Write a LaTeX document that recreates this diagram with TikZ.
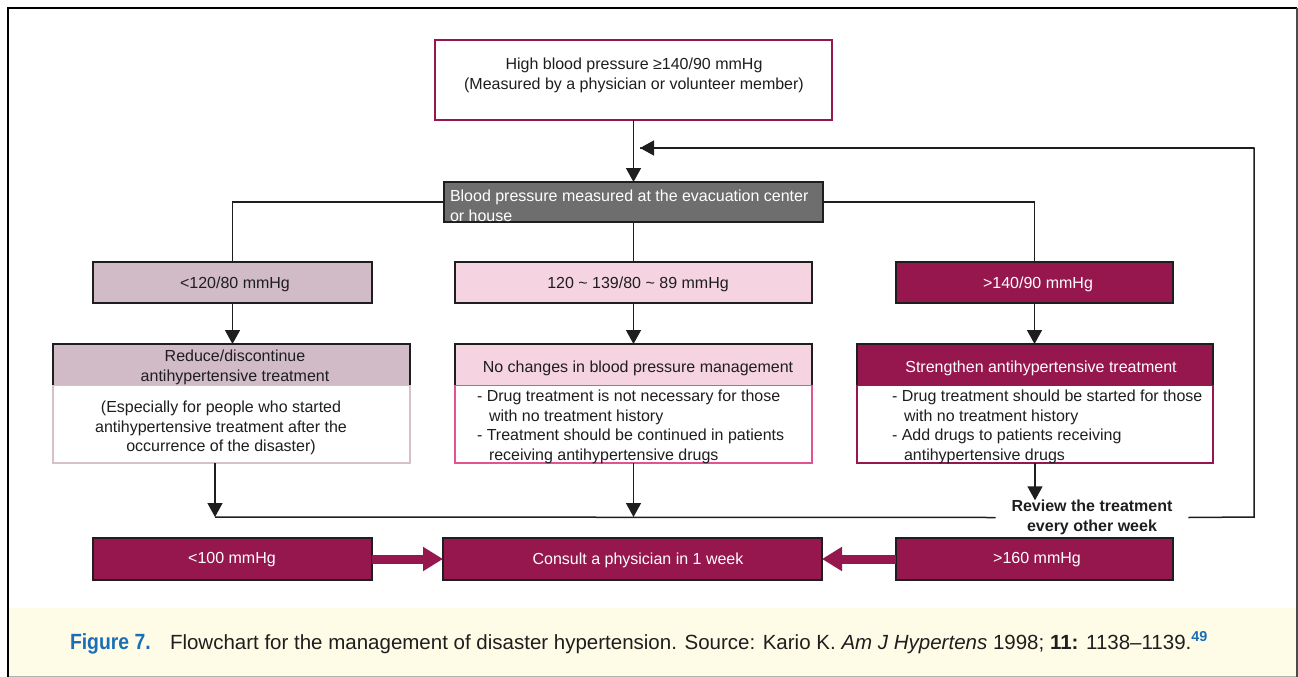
\documentclass[tikz,border=0pt]{standalone}
\usepackage{fontspec}
\setmainfont{Liberation Sans}
\newfontfamily\capfont[FakeStretch=0.88]{Liberation Sans}
\usetikzlibrary{arrows.meta}
\definecolor{crim}{RGB}{150,23,78}
\definecolor{mauve}{RGB}{209,187,198}
\definecolor{pinkf}{RGB}{246,211,224}
\definecolor{grayf}{RGB}{110,110,110}
\definecolor{magb}{RGB}{226,84,144}
\definecolor{mauveb}{RGB}{214,192,204}
\definecolor{ink}{RGB}{30,30,30}
\definecolor{cream}{RGB}{254,252,230}
\definecolor{figblue}{RGB}{26,110,182}
\begin{document}
\begin{tikzpicture}[x=1pt,y=-1pt,
  every node/.style={font=\fontsize{16}{19.5}\selectfont, inner sep=0pt, outer sep=0pt},
  bx/.style={rectangle, draw=ink, line width=1.2pt},
  conn/.style={draw=ink, line width=1.5pt},
  arr/.style={conn, -{Triangle[length=14pt,width=15pt]}},
  fat/.style={draw=crim, line width=9pt, -{Triangle[length=20pt,width=23pt]}},
  txt/.style={text=ink},
  wtxt/.style={text=white},
]
\useasboundingbox (0,0) rectangle (1298,677);
% frame and caption band
\fill[cream] (8,608) rectangle (1297,676);
\draw[black!30, line width=1pt] (8,676) -- (1297,676);
\draw[black, line width=2.5pt] (8,677) -- (8,8) -- (1297,8);
\draw[ink!80, line width=1.2pt] (1297,8) -- (1297,677);

% top box
\node[bx, draw=crim, fill=white, minimum width=397pt, minimum height=80pt] (top) at (633.5,80) {};
\node[txt, align=center] (topT) at (634,75.5) {High blood pressure ≥140/90 mmHg\\(Measured by a physician or volunteer member)};

% gray box
\node[bx, fill=grayf, minimum width=379pt, minimum height=40pt] (meas) at (633.5,202) {};
\node[wtxt, align=left, anchor=west] (measT) at (450,206) {Blood pressure measured at the evacuation center\\or house};

% level boxes
\node[bx, fill=mauve, minimum width=279pt, minimum height=41pt] (lvlL) at (232.5,282.5) {};
\node[txt] (lvlLT) at (235,284) {<120/80 mmHg};
\node[bx, fill=pinkf, minimum width=357pt, minimum height=41pt] (lvlM) at (633.5,282.5) {};
\node[txt] (lvlMT) at (638,284) {120 \textasciitilde\ 139/80 \textasciitilde\ 89 mmHg};
\node[bx, fill=crim, minimum width=277pt, minimum height=41pt] (lvlR) at (1034.5,282.5) {};
\node[wtxt] (lvlRT) at (1038,284) {>140/90 mmHg};

% action bodies
\node[rectangle, draw=mauveb, line width=1.2pt, fill=white, minimum width=357pt, minimum height=78pt] (bodyL) at (231.5,424) {};
\node[rectangle, draw=magb, line width=1.2pt, fill=white, minimum width=357pt, minimum height=78pt] (bodyM) at (633.5,424) {};
\node[rectangle, draw=crim, line width=1.2pt, fill=white, minimum width=356pt, minimum height=78pt] (bodyR) at (1035,424) {};
% action headers
\node[rectangle, fill=mauve, minimum width=357pt, minimum height=41pt] (hdrL) at (231.5,364.5) {};
\node[rectangle, fill=pinkf, minimum width=357pt, minimum height=41pt] (hdrM) at (633.5,364.5) {};
\node[rectangle, fill=crim, minimum width=356pt, minimum height=41pt] (hdrR) at (1035,364.5) {};
\foreach \h in {hdrL,hdrM,hdrR}{
  \draw[ink, line width=1.2pt] (\h.south west) -- (\h.north west) -- (\h.north east) -- (\h.south east);
}
\node[txt, align=center] (hdrLT) at (235,367.5) {Reduce/discontinue\\antihypertensive treatment};
\node[txt] (hdrMT) at (638,368) {No changes in blood pressure management};
\node[wtxt] (hdrRT) at (1041,368) {Strengthen antihypertensive treatment};

\node[txt, align=center] (bodyLT) at (221,428) {(Especially for people who started\\antihypertensive treatment after the\\occurrence of the disaster)};
\node[txt, align=left, anchor=west] (bodyMT) at (477,427) {- Drug treatment is not necessary for those\\\hspace*{12pt}with no treatment history\\- Treatment should be continued in patients\\\hspace*{12pt}receiving antihypertensive drugs};
\node[txt, align=left, anchor=west] (bodyRT) at (892,427) {- Drug treatment should be started for those\\\hspace*{12pt}with no treatment history\\- Add drugs to patients receiving\\\hspace*{12pt}antihypertensive drugs};

% review label
\node[txt, align=center, font=\fontsize{16}{19.5}\selectfont\bfseries, inner xsep=16pt] (review) at (1092,517.5) {Review the treatment\\every other week};

% bottom row
\node[bx, fill=crim, minimum width=279pt, minimum height=42pt] (lowL) at (232.5,559) {};
\node[wtxt] (lowLT) at (232,560) {<100 mmHg};
\node[bx, fill=crim, minimum width=379pt, minimum height=42pt] (consult) at (632.5,559) {};
\node[wtxt] (consultT) at (638,560) {Consult a physician in 1 week};
\node[bx, fill=crim, minimum width=277pt, minimum height=42pt] (highR) at (1034.5,559) {};
\node[wtxt] (highRT) at (1037,560) {>160 mmHg};

% connectors
\coordinate (mL) at (215,517);
\coordinate (fb) at (640,148);
\coordinate (rc) at (1254,517);
\draw[arr] (top.south) -- (meas.north);
\draw[conn] (meas.west) -| (lvlL.north);
\draw[conn] (meas.east) -| (lvlR.north);
\draw[conn] (meas.south) -- (lvlM.north);
\draw[arr] (lvlL.south) -- (lvlL.south |- hdrL.north);
\draw[arr] (lvlM.south) -- (lvlM.south |- hdrM.north);
\draw[arr] (lvlR.south) -- (lvlR.south |- hdrR.north);
\draw[arr] (bodyL.south -| mL) -- (mL);
\draw[arr] (bodyM.south) -- (bodyM.south |- mL);
\draw[arr] (bodyR.south) -- (bodyR.south |- review.north);
\draw[conn] (mL) -- (review.west);
\draw[conn] (review.east) -- (rc) |- (fb);
\draw[arr] (rc |- fb) -- (fb);
\draw[fat] (lowL.east) -- (consult.west);
\draw[fat] (highR.west) -- (consult.east);

% caption
\node[anchor=base west, text=figblue, font=\fontsize{22}{24}\capfont\bfseries] (figlab) at (70,649) {Figure 7.};
\node[anchor=base west, text=ink, font=\fontsize{20.5}{24}\selectfont] (capt) at (170,649) {Flowchart for the management of disaster hypertension. Source: Kario K. \textit{Am J Hypertens} 1998; \textbf{11:} 1138–1139.\textsuperscript{\textcolor{figblue}{\bfseries 49}}};
\end{tikzpicture}
\end{document}
